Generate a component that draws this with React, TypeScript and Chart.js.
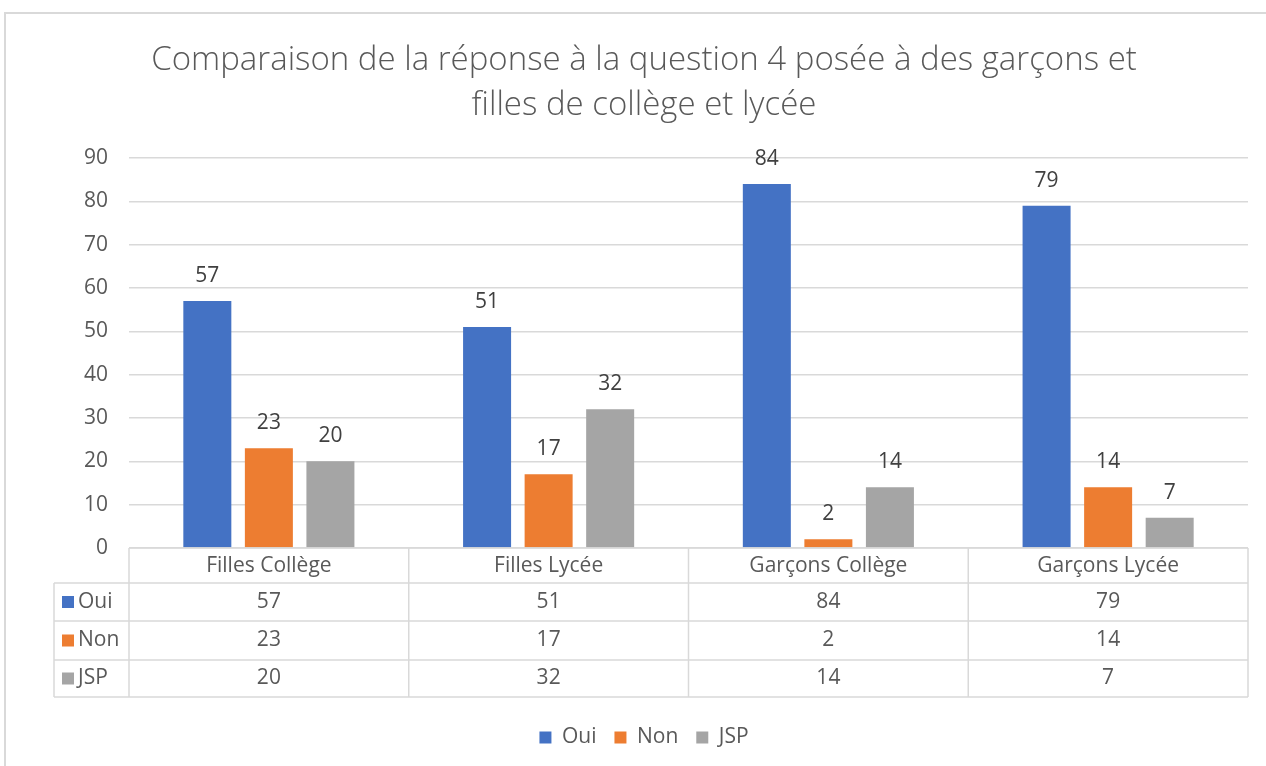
import React, { useEffect, useRef } from "react";
import { Chart, registerables } from "chart.js";

Chart.register(...registerables);

const TITLE_LINES = [
  "Comparaison de la réponse à la question 4 posée à des garçons et",
  "filles de collège et lycée",
];
const CATEGORIES = ["Filles Collège", "Filles Lycée", "Garçons Collège", "Garçons Lycée"];
const SERIES_NAMES = ["Oui", "Non", "JSP"];
const OUI = [57, 51, 84, 79];
const NON = [23, 17, 2, 14];
const JSP = [20, 32, 14, 7];
const COLORS = ["#4472C4", "#ED7D31", "#A5A5A5"];
const Y_MIN = 0;
const Y_MAX = 90;
const Y_STEP = 10;

const FONT = "'Open Sans', Lato, sans-serif";
const FS = 21;
const TEXT = "#595959";
const LINE = "#d9d9d9";
const PAD_LEFT = 40;

// row edges relative to x-axis line (table layout)
const ROW_EDGES = [0, 35, 73, 112, 149];
const LEFT_COL_X = 54;

const framePlugin = {
  id: "frame",
  beforeDraw(chart: any) {
    const { ctx, width, height } = chart;
    ctx.save();
    ctx.fillStyle = "#ffffff";
    ctx.fillRect(0, 0, width, height);
    ctx.strokeStyle = LINE;
    ctx.lineWidth = 2;
    ctx.beginPath();
    ctx.moveTo(4, 13);
    ctx.lineTo(width, 13);
    ctx.moveTo(5, 13);
    ctx.lineTo(5, height);
    ctx.stroke();
    ctx.restore();
  },
};

const labelsPlugin = {
  id: "barLabels",
  afterDatasetsDraw(chart: any) {
    const { ctx } = chart;
    ctx.save();
    ctx.font = `${FS}px ${FONT}`;
    ctx.fillStyle = "#404040";
    ctx.textAlign = "center";
    ctx.textBaseline = "middle";
    chart.data.datasets.forEach((ds: any, di: number) => {
      const meta = chart.getDatasetMeta(di);
      meta.data.forEach((bar: any, i: number) => {
        ctx.fillText(String(ds.data[i]), bar.x, bar.y - 25);
      });
    });
    ctx.restore();
  },
};

const tablePlugin = {
  id: "dataTable",
  afterDraw(chart: any) {
    const { ctx, chartArea } = chart;
    const x = chart.scales.x;
    const top = chartArea.bottom;
    const left = chartArea.left;
    const right = chartArea.right;
    const n = CATEGORIES.length;
    const cw = (right - left) / n;
    ctx.save();
    ctx.strokeStyle = LINE;
    ctx.lineWidth = 1.5;
    ctx.beginPath();
    ctx.moveTo(left, top + ROW_EDGES[0]);
    ctx.lineTo(right, top + ROW_EDGES[0]);
    for (let r = 1; r < ROW_EDGES.length; r++) {
      ctx.moveTo(LEFT_COL_X, top + ROW_EDGES[r]);
      ctx.lineTo(right, top + ROW_EDGES[r]);
    }
    ctx.moveTo(LEFT_COL_X, top + ROW_EDGES[1]);
    ctx.lineTo(LEFT_COL_X, top + ROW_EDGES[ROW_EDGES.length - 1]);
    for (let c = 0; c <= n; c++) {
      const cx = left + c * cw;
      ctx.moveTo(cx, top);
      ctx.lineTo(cx, top + ROW_EDGES[ROW_EDGES.length - 1]);
    }
    ctx.stroke();

    ctx.font = `${FS}px ${FONT}`;
    ctx.fillStyle = TEXT;
    ctx.textBaseline = "middle";
    ctx.textAlign = "center";
    CATEGORIES.forEach((cat, i) => {
      ctx.fillText(cat, x.getPixelForValue(i), top + (ROW_EDGES[0] + ROW_EDGES[1]) / 2 + 1);
    });
    chart.data.datasets.forEach((ds: any, di: number) => {
      const cy = top + (ROW_EDGES[di + 1] + ROW_EDGES[di + 2]) / 2;
      ds.data.forEach((v: number, i: number) => {
        ctx.textAlign = "center";
        ctx.fillStyle = TEXT;
        ctx.fillText(String(v), x.getPixelForValue(i), cy);
      });
      ctx.fillStyle = ds.backgroundColor;
      ctx.fillRect(62, cy - 6, 12, 12);
      ctx.fillStyle = TEXT;
      ctx.textAlign = "left";
      ctx.fillText(ds.label, 78, cy);
    });
    ctx.restore();
  },
};

export default function App() {
  const ref = useRef<HTMLCanvasElement | null>(null);
  useEffect(() => {
    if (!ref.current) return;
    const chart = new Chart(ref.current, {
      type: "bar",
      data: {
        labels: CATEGORIES,
        datasets: [
          { label: SERIES_NAMES[0], data: OUI, backgroundColor: COLORS[0] },
          { label: SERIES_NAMES[1], data: NON, backgroundColor: COLORS[1] },
          { label: SERIES_NAMES[2], data: JSP, backgroundColor: COLORS[2] },
        ],
      },
      options: {
        animation: false,
        responsive: true,
        maintainAspectRatio: false,
        layout: { padding: { top: 12, left: PAD_LEFT, right: 18, bottom: 8 } },
        datasets: { bar: { categoryPercentage: 0.66, barPercentage: 0.78 } } as any,
        plugins: {
          title: {
            display: true,
            text: TITLE_LINES,
            color: TEXT,
            font: { family: FONT, size: 33, weight: "300", lineHeight: 1.364 },
            padding: { top: 26, bottom: 30 },
          },
          legend: {
            position: "bottom",
            labels: {
              boxWidth: 12,
              boxHeight: 12,
              color: TEXT,
              font: { family: FONT, size: FS },
              padding: 18,
            },
          },
          tooltip: { enabled: false },
        },
        scales: {
          x: {
            grid: { display: false },
            border: { display: false },
            ticks: { display: false },
            afterFit: (s: any) => {
              s.height = 161;
            },
          },
          y: {
            min: Y_MIN,
            max: Y_MAX,
            grid: { color: LINE, lineWidth: 1.5, drawTicks: false },
            border: { display: false },
            ticks: {
              stepSize: Y_STEP,
              padding: 21,
              color: TEXT,
              font: { family: FONT, size: FS },
            },
            afterFit: (s: any) => {
              s.width = 129 - PAD_LEFT;
            },
          },
        },
      },
      plugins: [framePlugin, labelsPlugin, tablePlugin],
    });
    return () => chart.destroy();
  }, []);
  return (
    <div style={{ position: "fixed", left: 0, top: 0, width: 1266, height: 766 }}>
      <canvas ref={ref} />
    </div>
  );
}
